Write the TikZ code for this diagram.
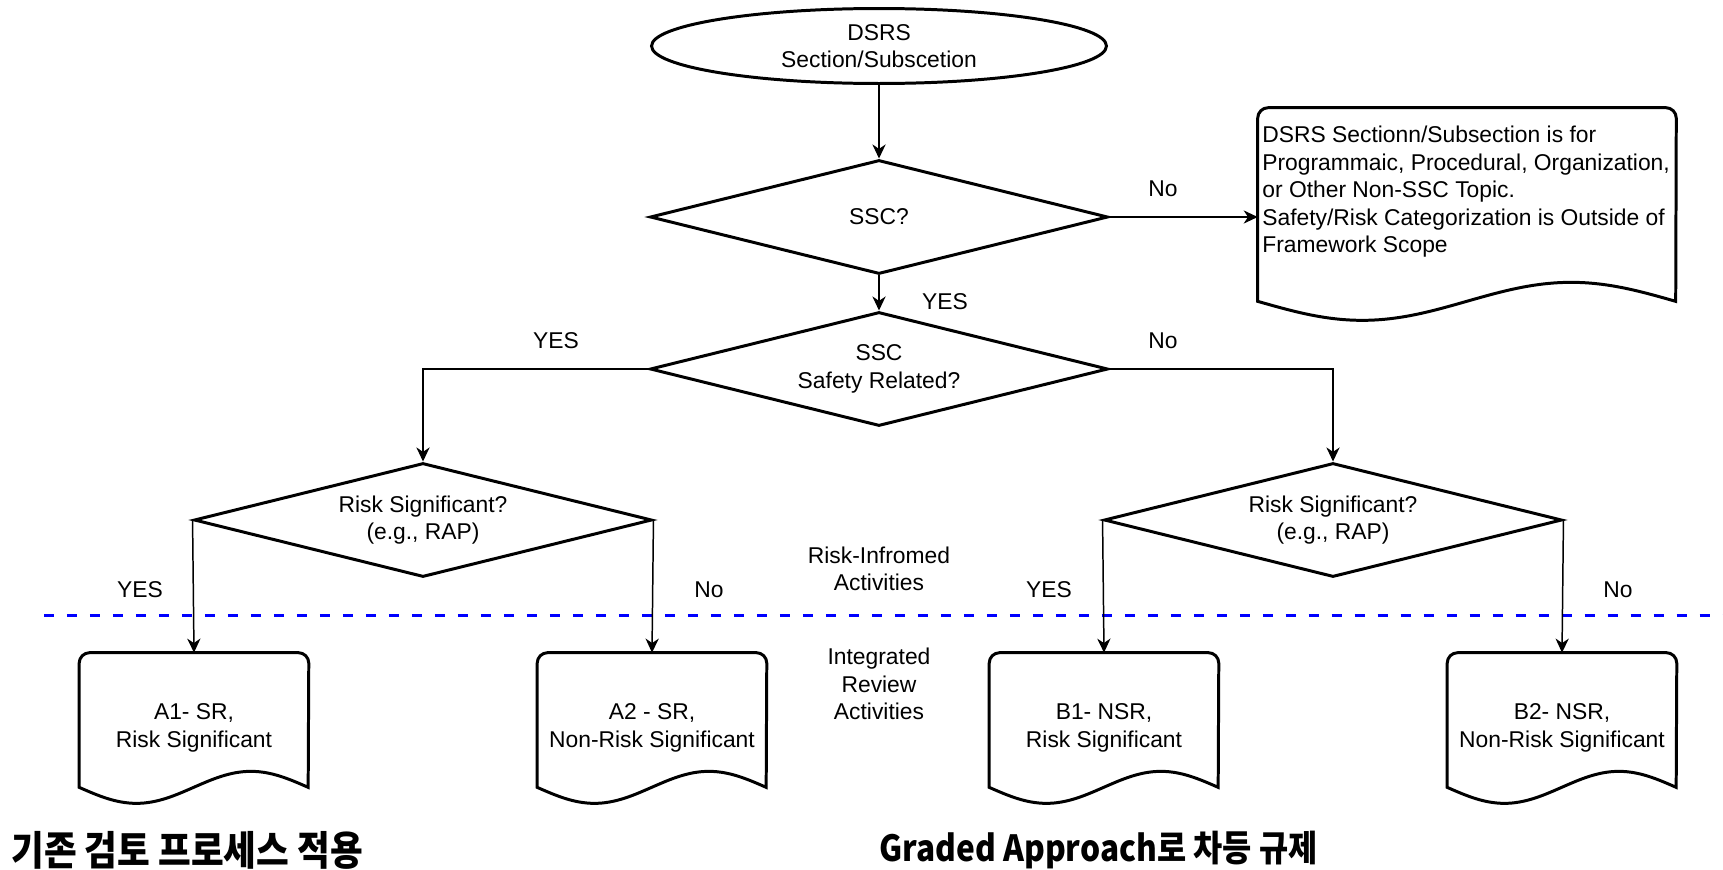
\documentclass[tikz,border=0pt]{standalone}
\usepackage{fontspec}
\setmainfont{Liberation Sans}
\newfontfamily\krfont{Noto Sans CJK KR}[FakeStretch=0.88]
\usetikzlibrary{shapes.geometric, arrows.meta, calc}
\tikzset{
  every node/.style = {font=\fontsize{13pt}{15.6pt}\selectfont, align=center},
  shapeline/.style = {draw, line width=1.7pt},
  startnode/.style = {ellipse, shapeline, minimum width=9.1cm, minimum height=1.5cm, inner sep=0pt},
  question/.style = {diamond, shapeline, aspect=4, minimum width=9.16cm, minimum height=2.28cm, inner sep=0pt},
  docnode/.style = {rectangle, minimum width=4.58cm, minimum height=3cm, inner sep=0pt},
  flow/.style = {-{Stealth[length=8pt, width=7.5pt, inset=2.5pt]}, line width=0.85pt},
  divider/.style = {blue, line width=1.7pt, dash pattern=on 0.2cm off 0.26cm},
  title/.style = {font=\krfont\bfseries\fontsize{#1}{24pt}\selectfont, inner sep=0pt}
}
\newcommand{\docoutline}[3]{%
  \draw[shapeline] ($(#1.south west)+(0,-#3)$) sin ++(#2,#3) cos ++(#2,-#3) sin ++(#2,-#3) cos ++(#2,#3)
    [rounded corners=6pt] -- (#1.north east) -- (#1.north west) [sharp corners] -- cycle;
}

\begin{document}
\begin{tikzpicture}[x=0.02cm, y=-0.02cm]
\useasboundingbox (0,0) rectangle (1723,869);
\node[startnode] (start) at (879,46) {DSRS\\Section/Subscetion};
\node[question] (ssc) at (879,217) {SSC?};
\node[question] (ssr) at (879,369) {SSC\\Safety Related?};
\node[question] (ldia) at (423,520) {Risk Significant?\\(e.g., RAP)};
\node[question] (rdia) at (1333,520) {Risk Significant?\\(e.g., RAP)};
\node[docnode, minimum width=8.36cm, minimum height=4.24cm] (scope) at (1467,214) {};
\node[anchor=north west, align=left, inner sep=0pt] (scopetext) at (1262,126)
  {DSRS Sectionn/Subsection is for\\Programmaic, Procedural, Organization,\\or Other Non-SSC Topic.\\Safety/Risk Categorization is Outside of\\Framework Scope};
\node[docnode] (a1) at (194,728) {A1- SR,\\Risk Significant};
\node[docnode] (a2) at (652,728) {A2 - SR,\\Non-Risk Significant};
\node[docnode] (b1) at (1104,728) {B1- NSR,\\Risk Significant};
\node[docnode] (b2) at (1562,728) {B2- NSR,\\Non-Risk Significant};
\docoutline{scope}{104.5}{19}
\foreach \doc in {a1,a2,b1,b2} {\docoutline{\doc}{57.25}{16}}

\node (riskinf) at (879,569) {Risk-Infromed\\Activities};
\node (integ) at (879,684) {Integrated\\Review\\Activities};
\coordinate (divl) at (44,615);
\coordinate (divr) at (1723,615);
\draw[divider] (divl) -- (divr);

\draw[flow] (start) -- (ssc);
\draw[flow] (ssc.east) -- (ssc.east -| scope.west);
\draw[flow] (ssc) -- (ssr);
\draw[flow] (ssr.west) -| (ldia.north);
\draw[flow] (ssr.east) -| (rdia.north);
\draw[flow] (ldia.west) -- (a1.north);
\draw[flow] (ldia.east) -- (a2.north);
\draw[flow] (rdia.west) -- (b1.north);
\draw[flow] (rdia.east) -- (b2.north);

\node (nossc) at (1163,189) {No};
\node (yesssc) at (945,302) {YES};
\node (yessr) at (556,341) {YES};
\node (nosr) at (1163,341) {No};
\node (yesa1) at (140,590) {YES};
\node (noa2) at (709,590) {No};
\node (yesb1) at (1049,590) {YES};
\node (nob2) at (1618,590) {No};

\node[title=23pt, anchor=west] (oldproc) at (11,850) {기존 검토 프로세스 적용};
\node[title=20.5pt, anchor=west] (graded) at (879,850) {Graded Approach로 차등 규제};
\end{tikzpicture}
\end{document}
